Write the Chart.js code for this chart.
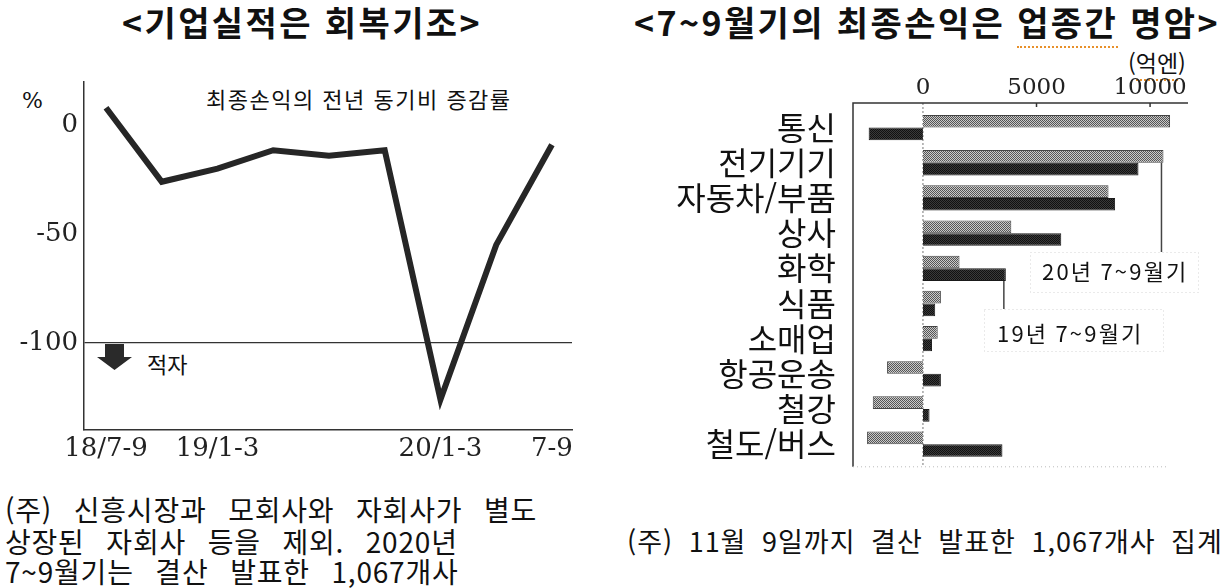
<!DOCTYPE html>
<html lang="ko">
<head>
<meta charset="utf-8">
<script src="https://cdn.jsdelivr.net/npm/chart.js@4.4.1/dist/chart.umd.min.js"></script>
<style>
  body { margin: 0; background: #fff; }
  #page { position: relative; width: 1229px; height: 588px; overflow: hidden; font-family: "Noto Sans CJK KR", sans-serif; color: #111; }
  .txt { position: absolute; white-space: nowrap; line-height: 1; }
  .title { font-weight: 700; font-size: 34px; letter-spacing: 2.4px; }
  .note { font-size: 28px; letter-spacing: 0.8px; word-spacing: 13px; }
  .note.right { font-size: 27px; letter-spacing: 1px; word-spacing: 7px; }
  .squiggle { border-bottom: 2px dotted #e8902a; }
  canvas { position: absolute; }
</style>
</head>
<body>
<div id="page">
  <div class="txt title" style="left:122px; top:5px;">&lt;기업실적은 회복기조&gt;</div>
  <div class="txt title" style="left:634px; top:5px;">&lt;7~9월기의 최종손익은 <span class="squiggle">업종간</span> 명암&gt;</div>
  <div class="txt" style="left:1128px; top:51px; font-size:23px;">(<span class="squiggle">억엔</span>)</div>

  <div class="txt" style="left:22px; top:90px; font-size:22px; font-family:'DejaVu Serif';">%</div>
  <div class="txt" style="left:206px; top:87px; font-size:22px; letter-spacing:1.5px;">최종손익의 전년 동기비 증감률</div>
  <div class="txt" style="left:147px; top:352px; font-size:22px;">적자</div>

  <canvas id="lineChart" width="600" height="410" style="left:0; top:60px;"></canvas>
  <canvas id="barChart" width="560" height="430" style="left:640px; top:60px;"></canvas>

  <div class="txt note" style="left:5px; top:495px;">(주) 신흥시장과 모회사와 자회사가 별도</div>
  <div class="txt note" style="left:5px; top:527px;">상장된 자회사 등을 제외. 2020년</div>
  <div class="txt note" style="left:5px; top:557px;">7~9월기는 결산 발표한 1,067개사</div>
  <div class="txt note right" style="left:627px; top:527px;">(주) 11월 9일까지 결산 발표한 1,067개사 집계</div>
</div>

<script>
// Left chart: year-on-year change of final profit (%)
const quarterLabels = ['18/7-9', '', '19/1-3', '', '', '', '20/1-3', '', '7-9'];
const profitChange = [8, -26, -20, -11.5, -14, -11.5, -126, -55, -9];
const percentTicks = [0, -50, -100];

// Right chart: final profit by industry (100 million yen)
const industries = ['통신', '전기기기', '자동차/부품', '상사', '화학', '식품', '소매업', '항공운송', '철강', '철도/버스'];
const profit2020 = [10880, 10590, 8170, 3890, 1610, 790, 650, -1580, -2210, -2460];
const profit2019 = [-2390, 9490, 8460, 6090, 3650, 540, 400, 790, 290, 3500];
const yenTicks = [0, 5000, 10000];

Chart.defaults.animation = false;
Chart.defaults.plugins.legend.display = false;
Chart.defaults.plugins.tooltip.enabled = false;

// small checker patterns to mimic the printed halftone
function makePattern(a, b) {
    const c = document.createElement('canvas');
    c.width = 2; c.height = 2;
    const g = c.getContext('2d');
    g.fillStyle = a; g.fillRect(0, 0, 2, 2);
    g.fillStyle = b; g.fillRect(0, 0, 1, 1); g.fillRect(1, 1, 1, 1);
    return g.createPattern(c, 'repeat');
}

// arrow under the -100 line ("적자")
const deficitArrow = {
    id: 'deficitArrow',
    afterDraw(chart) {
        const ctx = chart.ctx;
        const left = chart.chartArea.left;
        const y0 = chart.scales.y.getPixelForValue(-100) + 1;
        ctx.save();
        ctx.fillStyle = '#2a2a2a';
        ctx.beginPath();
        ctx.moveTo(left + 21, y0);
        ctx.lineTo(left + 40, y0);
        ctx.lineTo(left + 40, y0 + 13);
        ctx.lineTo(left + 48, y0 + 13);
        ctx.lineTo(left + 30.5, y0 + 26);
        ctx.lineTo(left + 13, y0 + 13);
        ctx.lineTo(left + 21, y0 + 13);
        ctx.closePath();
        ctx.fill();
        ctx.restore();
    }
};

new Chart(document.getElementById('lineChart'), {
    type: 'line',
    data: {
        datasets: [{
            data: profitChange.map((v, i) => ({ x: i, y: v })),
            borderColor: '#262626',
            borderWidth: 6,
            borderJoinStyle: 'miter',
            pointRadius: 0,
            tension: 0
        }]
    },
    options: {
        responsive: false,
        layout: { padding: { top: 21, right: 28, left: 0, bottom: 0 } },
        scales: {
            x: {
                type: 'linear',
                min: -0.395,
                max: 8.36,
                afterFit: scale => { scale.height = 40; },
                afterBuildTicks: scale => { scale.ticks = quarterLabels.map((_, i) => ({ value: i })); },
                ticks: {
                    callback: v => quarterLabels[v] || '',
                    autoSkip: false,
                    maxRotation: 0,
                    padding: -4,
                    color: '#222',
                    font: { family: 'DejaVu Serif', size: 26 }
                },
                grid: { display: false },
                border: { display: true, color: '#333', width: 1.5 }
            },
            y: {
                min: -140,
                max: 20,
                afterFit: scale => { scale.width = 84; },
                afterBuildTicks: scale => { scale.ticks = percentTicks.map(v => ({ value: v })); },
                ticks: {
                    callback: v => String(v),
                    padding: 6,
                    color: '#222',
                    font: { family: 'DejaVu Serif', size: 26 }
                },
                grid: {
                    drawTicks: false,
                    color: ctx => ctx.tick && ctx.tick.value === -100 ? '#333' : 'rgba(0,0,0,0)',
                    lineWidth: 1.2
                },
                border: { display: true, color: '#333', width: 1.5 }
            }
        }
    },
    plugins: [deficitArrow]
});

// frame, zero line and the two callouts of the bar chart
const barDecor = {
    id: 'barDecor',
    beforeDatasetsDraw(chart) {
        const ctx = chart.ctx;
        const a = chart.chartArea;
        const x0 = chart.scales.x.getPixelForValue(0);
        ctx.save();
        ctx.strokeStyle = '#777';
        ctx.lineWidth = 1;
        ctx.setLineDash([2, 2]);
        ctx.beginPath();
        ctx.moveTo(x0, a.top - 7);
        ctx.lineTo(x0, a.bottom + 5);
        ctx.stroke();
        ctx.restore();
    },
    afterDraw(chart) {
        const ctx = chart.ctx;
        const a = chart.chartArea;
        const xs = chart.scales.x;
        ctx.save();
        // top axis line and left border
        ctx.strokeStyle = '#333';
        ctx.lineWidth = 1.5;
        ctx.beginPath();
        ctx.moveTo(a.left, a.bottom + 5);
        ctx.lineTo(a.left, a.top - 7);
        ctx.lineTo(a.right, a.top - 7);
        ctx.stroke();
        yenTicks.slice(1).forEach(v => {
            const x = xs.getPixelForValue(v);
            ctx.beginPath();
            ctx.moveTo(x, a.top - 7);
            ctx.lineTo(x, a.top - 3);
            ctx.stroke();
        });
        // faint bottom edge
        ctx.strokeStyle = '#bbb';
        ctx.lineWidth = 1;
        ctx.setLineDash([1, 3]);
        ctx.beginPath();
        ctx.moveTo(a.left, a.bottom + 5);
        ctx.lineTo(a.right - 20, a.bottom + 5);
        ctx.stroke();

        // callouts
        const callouts = [
            { ds: 0, idx: 1, box: [390, 192, 168, 40], text: '20년 7~9월기', tx: 402, ty: 212 },
            { ds: 1, idx: 4, box: [344, 249, 179, 42], text: '19년 7~9월기', tx: 357, ty: 274 }
        ];
        callouts.forEach(c => {
            const bar = chart.getDatasetMeta(c.ds).data[c.idx];
            const bx = bar.x - 2;
            const by = bar.y + bar.height / 2;
            ctx.setLineDash([]);
            ctx.fillStyle = '#fff';
            ctx.fillRect(c.box[0], c.box[1], c.box[2], c.box[3]);
            ctx.strokeStyle = '#d4d4d4';
            ctx.lineWidth = 1;
            ctx.setLineDash([1, 3]);
            ctx.strokeRect(c.box[0] + 0.5, c.box[1] + 0.5, c.box[2], c.box[3]);
            ctx.setLineDash([]);
            ctx.strokeStyle = '#444';
            ctx.lineWidth = 1.5;
            ctx.beginPath();
            ctx.moveTo(bx, by);
            ctx.lineTo(bx, c.box[1]);
            ctx.stroke();
            ctx.fillStyle = '#111';
            ctx.font = '22px "Noto Sans CJK KR"';
            if ('letterSpacing' in ctx) ctx.letterSpacing = '2.2px';
            ctx.textBaseline = 'middle';
            ctx.textAlign = 'left';
            ctx.fillText(c.text, c.tx, c.ty);
            if ('letterSpacing' in ctx) ctx.letterSpacing = '0px';
        });
        ctx.restore();
    }
};

new Chart(document.getElementById('barChart'), {
    type: 'bar',
    data: {
        labels: industries,
        datasets: [
            {
                label: '20년 7~9월기',
                data: profit2020,
                backgroundColor: makePattern('#c9c9c9', '#555'),
                borderColor: '#444',
                borderWidth: 1,
                categoryPercentage: 0.72,
                barPercentage: 1
            },
            {
                label: '19년 7~9월기',
                data: profit2019,
                backgroundColor: makePattern('#3a3a3a', '#111'),
                borderColor: '#1a1a1a',
                borderWidth: 1,
                categoryPercentage: 0.72,
                barPercentage: 1
            }
        ]
    },
    options: {
        responsive: false,
        indexAxis: 'y',
        layout: { padding: { top: 3, right: 12, left: 0, bottom: 22 } },
        scales: {
            x: {
                position: 'top',
                min: -3080,
                max: 11670,
                afterFit: scale => { scale.height = 47; },
                afterBuildTicks: scale => { scale.ticks = yenTicks.map(v => ({ value: v })); },
                ticks: {
                    callback: v => String(v),
                    padding: 0,
                    color: '#222',
                    font: { family: 'DejaVu Serif', size: 23 }
                },
                grid: { display: false },
                border: { display: false }
            },
            y: {
                afterFit: scale => { scale.width = 213; },
                ticks: {
                    autoSkip: false,
                    padding: 9,
                    color: '#111',
                    font: { family: 'Noto Sans CJK KR', size: 32 }
                },
                grid: { display: false },
                border: { display: false }
            }
        }
    },
    plugins: [barDecor]
});
</script>
</body>
</html>
